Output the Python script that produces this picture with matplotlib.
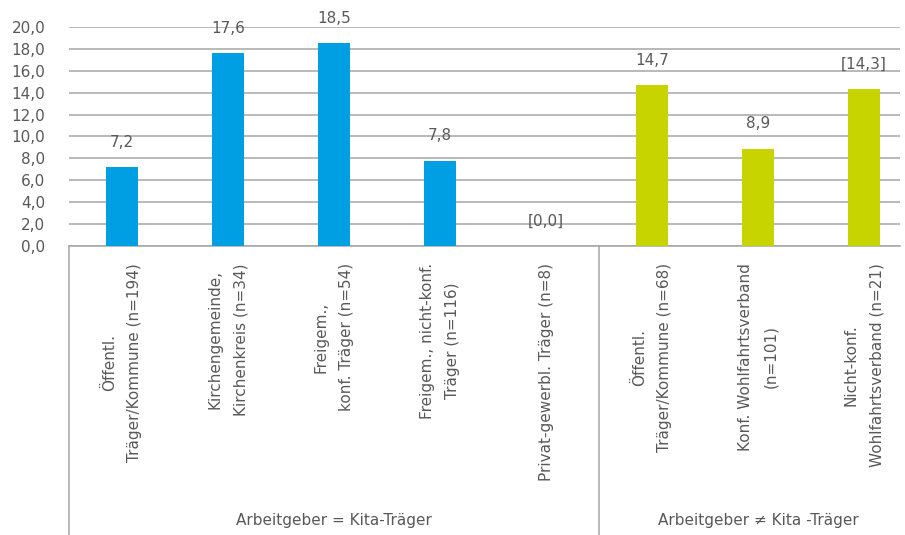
import matplotlib
matplotlib.use("Agg")
import matplotlib.pyplot as plt
import matplotlib.transforms as mtransforms

plt.rcParams['font.family'] = ['DejaVu Sans']

categories = [
    "Öffentl.\nTräger/Kommune (n=194)",
    "Kirchengemeinde,\nKirchenkreis (n=34)",
    "Freigem.,\nkonf. Träger (n=54)",
    "Freigem., nicht-konf.\nTräger (n=116)",
    "Privat-gewerbl. Träger (n=8)",
    "Öffentl.\nTräger/Kommune (n=68)",
    "Konf. Wohlfahrtsverband\n(n=101)",
    "Nicht-konf.\nWohlfahrtsverband (n=21)",
]
values = [7.2, 17.6, 18.5, 7.8, 0.0, 14.7, 8.9, 14.3]
bracketed = [False, False, False, False, True, False, False, True]
groups = ["Arbeitgeber = Kita-Träger", "Arbeitgeber ≠ Kita -Träger"]
group_sizes = [5, 3]
yticks = [0, 2, 4, 6, 8, 10, 12, 14, 16, 18, 20]

blue = "#009FE3"
green = "#C8D400"
grid_c = "#A6A6A6"
text_c = "#595959"
fs = 11.0

W, H = 905, 535
fig = plt.figure(figsize=(W / 100, H / 100), dpi=100)
ax_left, ax_right = 69, 900
y0_px, y20_px = 246, 27
ax = fig.add_axes([ax_left / W, (H - y0_px) / H,
                   (ax_right - ax_left) / W, (y0_px - y20_px) / H])

cat_w = 106.0
colors = [blue] * group_sizes[0] + [green] * group_sizes[1]
x = list(range(len(values)))
ax.bar(x, values, width=0.30, color=colors, zorder=3)

ax.set_xlim(-0.5, -0.5 + (ax_right - ax_left) / cat_w)
ax.set_ylim(0, 20)
ax.set_yticks(yticks)
ax.set_yticklabels([f"{v:.1f}".replace(".", ",") for v in yticks],
                   fontsize=fs, color=text_c)
ax.tick_params(axis='y', length=0, pad=17)
ax.set_xticks([])
for s in ['top', 'right', 'left']:
    ax.spines[s].set_visible(False)
ax.spines['bottom'].set_color(grid_c)
ax.spines['bottom'].set_linewidth(1.1)
ax.yaxis.grid(True, color=grid_c, linewidth=1.1, zorder=0)
ax.set_axisbelow(True)

for xi, v, b in zip(x, values, bracketed):
    s = f"{v:.1f}".replace(".", ",")
    if b:
        s = f"[{s}]"
    ax.annotate(s, (xi, v), xytext=(0, 12.5), textcoords='offset points',
                ha='center', va='bottom', fontsize=fs, color=text_c)

trans = mtransforms.blended_transform_factory(ax.transData, fig.transFigure)
label_top = (H - 263) / H
for xi, c in zip(x, categories):
    ax.text(xi, label_top, c, transform=trans, rotation=90, ha='center',
            va='top', multialignment='center', fontsize=fs, color=text_c,
            linespacing=1.85)

# separators and group labels
start = 0
for g, n in zip(groups, group_sizes):
    ax.plot([start - 0.5, start - 0.5], [(H - y0_px) / H, 0], transform=trans,
            color=grid_c, linewidth=1.1, clip_on=False)
    center = start - 0.5 + n / 2
    ax.text(center, (H - 521) / H, g, transform=trans, ha='center',
            va='center', fontsize=fs, color=text_c)
    start += n

fig.savefig("out.png", dpi=100)
